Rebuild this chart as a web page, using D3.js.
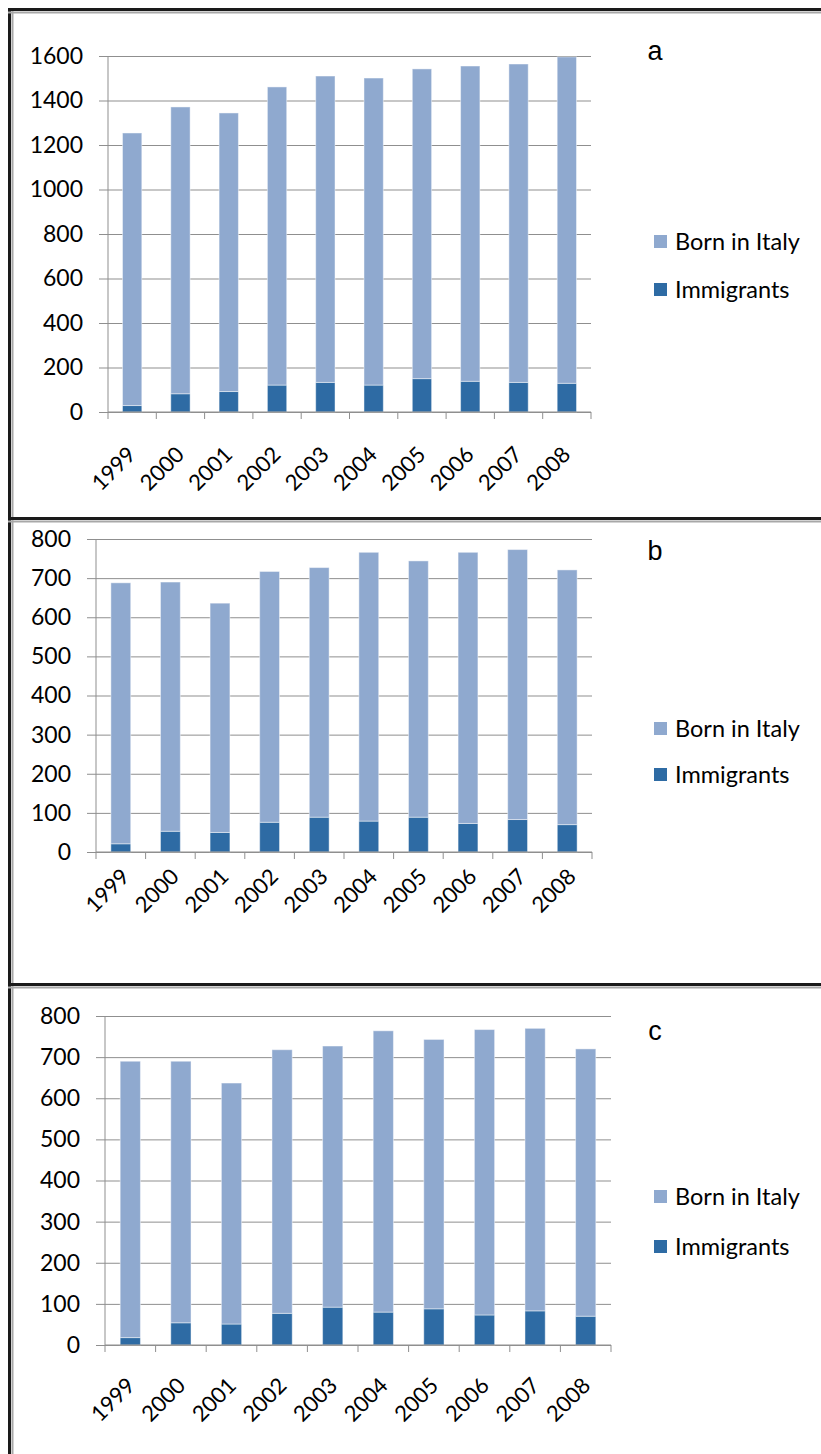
<!DOCTYPE html>
<html>
<head>
<meta charset="utf-8">
<script src="https://cdn.jsdelivr.net/npm/d3@7"></script>
<style>
  body { margin: 0; background: #fff; }
  svg { display: block; }
</style>
</head>
<body>
<div id="chart"></div>
<script>
var years = ["1999", "2000", "2001", "2002", "2003", "2004", "2005", "2006", "2007", "2008"];
var seriesNames = ["Born in Italy", "Immigrants"];

// panel a
var immigrantsA = [29, 82, 92, 121, 133, 121, 150, 138, 133, 129];
var bornA = [1225, 1289, 1252, 1340, 1377, 1380, 1392, 1417, 1431, 1467];
var ticksA = [0, 200, 400, 600, 800, 1000, 1200, 1400, 1600];

// panel b
var immigrantsB = [21, 53, 50, 76, 89, 79, 89, 73, 83, 70];
var bornB = [667, 637, 586, 641, 638, 687, 655, 693, 690, 651];
var ticksB = [0, 100, 200, 300, 400, 500, 600, 700, 800];

// panel c
var immigrantsC = [18, 54, 51, 77, 92, 80, 88, 73, 83, 70];
var bornC = [672, 636, 586, 641, 635, 684, 655, 694, 687, 650];
var ticksC = [0, 100, 200, 300, 400, 500, 600, 700, 800];

var lightBlue = "#8FA9CF",
    darkBlue = "#2E6BA4",
    gridColor = "#8f8f8f",
    tickFont = "Lato, 'Open Sans', sans-serif";

var svg = d3.select("#chart").append("svg")
    .attr("width", 821)
    .attr("height", 1454);

// table cell borders
function hline(y, color, w) {
    svg.append("line").attr("x1", 8).attr("x2", 821).attr("y1", y).attr("y2", y)
        .attr("stroke", color).attr("stroke-width", w);
}
svg.append("line").attr("x1", 9.5).attr("x2", 9.5).attr("y1", 8).attr("y2", 1454)
    .attr("stroke", "#1a1a1a").attr("stroke-width", 3);
svg.append("line").attr("x1", 12.5).attr("x2", 12.5).attr("y1", 11).attr("y2", 1454)
    .attr("stroke", "#a8a8a8").attr("stroke-width", 2);
hline(9.5, "#1a1a1a", 3);
hline(12.5, "#a8a8a8", 2);
hline(518.5, "#1a1a1a", 3);
hline(521.5, "#a8a8a8", 2);
hline(984.5, "#1a1a1a", 3);
hline(987.5, "#a8a8a8", 2);

function drawPanel(cfg) {
    var rows = years.map(function (yr, i) {
        return {year: yr, "Immigrants": cfg.immigrants[i], "Born in Italy": cfg.born[i]};
    });

    var stack = d3.stack().keys(["Immigrants", "Born in Italy"])(rows);

    var x = d3.scaleBand()
        .domain(years)
        .range([cfg.x0, cfg.x1])
        .paddingInner(0.6)
        .paddingOuter(0.3);

    var xb = d3.scaleBand().domain(years).range([cfg.x0, cfg.x1]);

    var y = d3.scaleLinear()
        .domain([0, cfg.ticks[cfg.ticks.length - 1]])
        .range([cfg.y0, cfg.y1]);

    var g = svg.append("g");

    // gridlines + y ticks
    var yAxis = d3.axisLeft(y)
        .tickValues(cfg.ticks)
        .tickFormat(d3.format("d"))
        .tickSize(-(cfg.x1 - cfg.x0 + 9));
    var ya = g.append("g")
        .attr("transform", "translate(" + (cfg.x0 - 9) + ",0)")
        .call(yAxis);
    ya.select(".domain").remove();
    ya.selectAll(".tick line").attr("stroke", gridColor);
    ya.selectAll(".tick text")
        .attr("x", -16)
        .style("font-family", tickFont)
        .style("font-size", "23px")
        .attr("fill", "#000");

    // bars
    var colors = {"Immigrants": darkBlue, "Born in Italy": lightBlue};
    g.selectAll("g.layer")
        .data(stack)
        .enter().append("g")
        .attr("class", "layer")
        .attr("fill", function (d) { return colors[d.key]; })
        .selectAll("rect")
        .data(function (d) { return d; })
        .enter().append("rect")
        .attr("x", function (d) { return x(d.data.year); })
        .attr("width", x.bandwidth())
        .attr("y", function (d) { return y(d[1]); })
        .attr("height", function (d) { return y(d[0]) - y(d[1]); })
        .attr("stroke", "#ffffff")
        .attr("stroke-opacity", 0.45)
        .attr("stroke-width", 1);

    // y axis line
    g.append("line")
        .attr("x1", cfg.x0).attr("x2", cfg.x0)
        .attr("y1", cfg.y1).attr("y2", cfg.y0)
        .attr("stroke", gridColor);

    // x axis with ticks at band edges
    var edges = years.map(function (d) { return xb(d); }).concat([cfg.x1]);
    g.selectAll("line.xt")
        .data(edges)
        .enter().append("line")
        .attr("class", "xt")
        .attr("x1", function (d) { return d; })
        .attr("x2", function (d) { return d; })
        .attr("y1", cfg.y0)
        .attr("y2", cfg.y0 + 7)
        .attr("stroke", gridColor);
    g.append("line")
        .attr("x1", cfg.x0).attr("x2", cfg.x1)
        .attr("y1", cfg.y0).attr("y2", cfg.y0)
        .attr("stroke", gridColor);

    g.selectAll("text.yr")
        .data(years)
        .enter().append("text")
        .attr("class", "yr")
        .attr("transform", function (d) {
            return "translate(" + (xb(d) + xb.bandwidth() / 2 + cfg.lx) + "," + (cfg.y0 + cfg.ly) + ") rotate(-45)";
        })
        .attr("text-anchor", "end")
        .style("font-family", tickFont)
        .style("font-size", "22px")
        .text(function (d) { return d; });

    // legend
    var leg = g.selectAll("g.leg")
        .data(seriesNames)
        .enter().append("g")
        .attr("class", "leg")
        .attr("transform", function (d, i) {
            return "translate(654," + cfg.legY[i] + ")";
        });
    leg.append("rect")
        .attr("x", 0).attr("y", -7)
        .attr("width", 13).attr("height", 13)
        .attr("fill", function (d) { return d === "Immigrants" ? darkBlue : lightBlue; });
    leg.append("text")
        .attr("x", 21)
        .attr("dy", "0.35em")
        .style("font-family", tickFont)
        .style("font-size", "23.5px")
        .text(function (d) { return d; });

    // panel letter
    g.append("text")
        .attr("x", 655)
        .attr("y", cfg.letterY)
        .attr("text-anchor", "middle")
        .style("font-family", "'Liberation Sans', Arial, sans-serif")
        .style("font-size", "27px")
        .text(cfg.letter);
}

drawPanel({immigrants: immigrantsA, born: bornA, ticks: ticksA,
    x0: 108, x1: 591, y0: 412, y1: 56, lx: 5, ly: 44,
    legY: [242, 290], letter: "a", letterY: 60});
drawPanel({immigrants: immigrantsB, born: bornB, ticks: ticksB,
    x0: 96, x1: 592, y0: 852, y1: 539, lx: 10, ly: 26,
    legY: [729, 775], letter: "b", letterY: 560});
drawPanel({immigrants: immigrantsC, born: bornC, ticks: ticksC,
    x0: 105, x1: 611, y0: 1345, y1: 1016, lx: 6, ly: 42,
    legY: [1197, 1247], letter: "c", letterY: 1040});
</script>
</body>
</html>
